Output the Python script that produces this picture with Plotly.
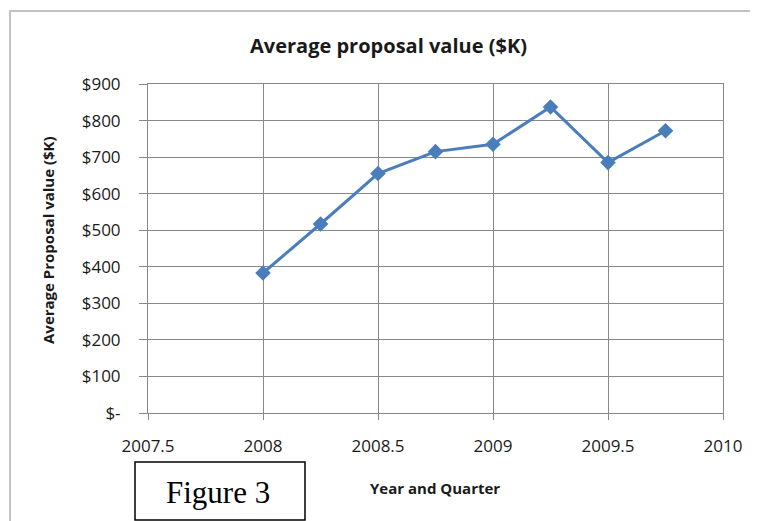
import plotly.graph_objects as go

quarters = [2008, 2008.25, 2008.5, 2008.75, 2009, 2009.25, 2009.5, 2009.75]
avg_value = [383, 517, 655, 715, 735, 837, 685, 772]

y_tickvals = [0, 100, 200, 300, 400, 500, 600, 700, 800, 900]
y_ticktext = ["$-", "$100", "$200", "$300", "$400", "$500", "$600", "$700", "$800", "$900"]
x_tickvals = [2007.5, 2008, 2008.5, 2009, 2009.5, 2010]
x_ticktext = ["2007.5", "2008", "2008.5", "2009", "2009.5", "2010"]

OFF = 8  # page body margin
W, H = 758 - OFF, 521 - OFF
# plot area in page pixels
PL, PR, PT, PB = 148, 723, 84, 413
L, R, T, B = PL - OFF, W - (PR - OFF), PT - OFF, H - (PB - OFF)
pw, ph = PR - PL, PB - PT


def px_x(p):
    return (p - PL) / pw


def px_y(p):
    return (PB - p) / ph


font_main = "Open Sans, Lato, sans-serif"
grid = "#888888"
txt = "#1a1a1a"

fig = go.Figure()
fig.add_trace(go.Scatter(
    x=quarters, y=avg_value, mode="lines+markers",
    line=dict(color="#4A7EBB", width=3),
    marker=dict(symbol="diamond", size=12, color="#4A7EBB"),
    showlegend=False,
))

fig.update_layout(
    width=W, height=H,
    margin=dict(l=L, r=R, t=T, b=B, pad=0),
    paper_bgcolor="white", plot_bgcolor="white",
    font=dict(family=font_main, size=17, color=txt),
    xaxis=dict(
        range=[2007.5, 2010], tickvals=x_tickvals, ticktext=x_ticktext,
        showgrid=True, gridcolor=grid, gridwidth=1,
        showline=True, linecolor=grid, linewidth=1, mirror=True,
        ticks="outside", ticklen=6, tickcolor=grid,
        ticklabelstandoff=12, zeroline=False,
        tickfont=dict(family=font_main, size=17, color=txt),
    ),
    yaxis=dict(
        range=[0, 900], tickvals=y_tickvals, ticktext=y_ticktext,
        showgrid=True, gridcolor=grid, gridwidth=1,
        showline=True, linecolor=grid, linewidth=1, mirror=True,
        ticks="outside", ticklen=8, tickcolor=grid,
        ticklabelstandoff=15, zeroline=False,
        tickfont=dict(family=font_main, size=17, color=txt),
    ),
    shapes=[
        dict(type="rect", xref="paper", yref="paper",
             x0=px_x(10), x1=px_x(790), y0=px_y(560), y1=px_y(11),
             line=dict(color="#b0b0b0", width=1.5), fillcolor="rgba(0,0,0,0)", layer="below"),
        dict(type="rect", xref="paper", yref="paper",
             x0=px_x(135), x1=px_x(305), y0=px_y(520), y1=px_y(462),
             line=dict(color="black", width=1.5), fillcolor="white", layer="above"),
    ],
    annotations=[
        dict(text="<b>Average proposal value ($K)</b>", xref="paper", yref="paper",
             x=px_x(388), y=px_y(45), showarrow=False,
             font=dict(family=font_main, size=20, color=txt), xanchor="center", yanchor="middle"),
        dict(text="<b>Average Proposal value ($K)</b>", xref="paper", yref="paper",
             x=px_x(48), y=px_y(240), showarrow=False, textangle=-90,
             font=dict(family=font_main, size=15, color=txt), xanchor="center", yanchor="middle"),
        dict(text="<b>Year and Quarter</b>", xref="paper", yref="paper",
             x=px_x(435), y=px_y(488), showarrow=False,
             font=dict(family=font_main, size=15, color=txt), xanchor="center", yanchor="middle"),
        dict(text="Figure 3", xref="paper", yref="paper",
             x=px_x(218), y=px_y(492), showarrow=False,
             font=dict(family="Liberation Serif, Times New Roman, serif", size=31, color="black"),
             xanchor="center", yanchor="middle"),
    ],
)

fig.write_html("out.html")
